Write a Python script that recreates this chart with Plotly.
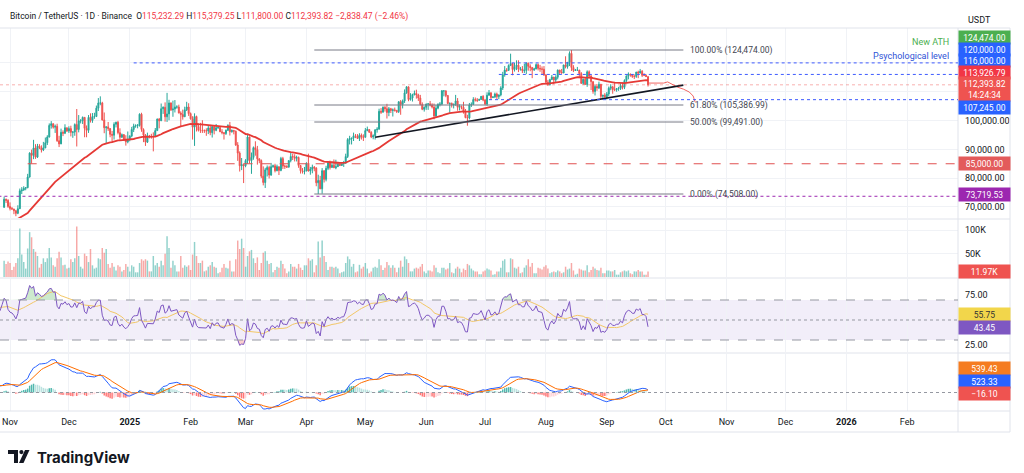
import numpy as np
import pandas as pd
import plotly.graph_objects as go

# ---------------- DATA (thousand USDT, daily, Binance BTCUSDT) ----------------
warm_start = "2024-08-01"   # closes used only to warm up the indicators
warm_close = [65.4,61.4,60.7,58.1,54.0,56.0,55.1,61.7,60.9,60.9,58.7,59.4,60.6,58.7,57.5,58.9,59.5,58.4,59.5,59.0,61.2,60.4,64.1,64.2,64.2,62.8,59.4,59.0,59.4,59.1,58.9,
              57.3,59.1,57.5,58.0,56.2,53.9,54.2,54.9,57.0,57.6,57.3,58.1,60.5,60.0,59.2,58.2,60.3,61.8,63.0,63.2,63.3,63.6,63.3,64.3,63.1,65.2,65.8,65.9,65.6,63.3,
              60.8,60.6,60.8,62.1,62.1,62.8,62.2,62.1,60.6,60.3,62.4,63.2,62.9,66.0,67.0,67.6,67.4,68.4,68.4,69.0,67.4,67.4,66.7,68.2,66.6,67.0,67.9,69.9]

bar_start = "2024-10-29"
close_k = [72.7,72.3,70.2,
  69.5,69.3,68.7,67.8,69.4,75.6,75.9,76.5,76.7,80.4,88.7,87.9,90.5,87.3,91.1,90.6,89.8,90.5,92.3,94.3,98.3,98.9,97.7,98.0,93.0,91.9,95.9,95.6,97.5,96.4,
  97.2,95.9,96.0,98.6,96.9,99.9,99.9,101.1,97.3,96.6,101.1,100.0,101.4,101.4,104.3,106.1,106.1,100.2,97.5,97.8,97.2,95.2,94.9,98.7,99.4,95.8,94.2,95.1,93.5,92.6,93.4,
  94.6,96.9,98.1,98.2,98.3,102.2,96.9,95.0,92.5,94.7,94.5,94.5,94.5,96.5,100.5,99.9,104.1,104.6,101.3,102.3,106.1,103.7,104.0,104.7,104.7,102.6,102.1,101.3,103.7,104.7,102.4,
  100.6,97.7,101.4,97.9,96.6,96.6,96.5,96.5,96.4,97.4,95.8,97.9,96.6,97.5,97.6,96.1,95.8,95.5,96.6,98.3,96.1,96.6,96.3,91.5,88.7,84.3,84.7,84.3,
  86.1,94.3,86.1,87.2,90.6,89.9,86.7,86.1,80.7,78.5,82.9,83.7,81.1,84.0,84.3,82.6,84.0,82.7,86.8,84.2,84.1,83.8,86.1,87.5,87.4,86.9,87.2,84.4,82.6,82.3,82.5,
  85.2,82.5,83.1,83.8,83.5,78.4,79.2,76.3,82.6,79.6,83.4,85.3,83.7,84.5,83.6,84.0,84.9,84.4,85.1,85.2,87.5,93.4,93.7,93.9,94.7,94.6,93.8,94.9,94.3,94.2,
  96.5,96.9,95.9,94.3,94.7,96.8,97.0,103.2,102.9,104.6,104.1,102.8,104.1,103.5,103.7,103.5,103.1,106.5,105.6,106.8,109.6,111.7,107.3,107.8,109.0,109.4,108.9,107.8,105.6,103.9,104.6,
  105.7,105.8,105.4,104.7,101.6,104.3,105.6,105.7,110.3,110.3,108.7,105.9,106.0,105.4,105.6,106.8,104.6,104.9,104.6,103.3,101.0,100.9,105.4,105.6,107.3,107.1,107.0,107.3,108.4,107.1,
  105.7,108.8,109.6,108.0,108.2,109.2,108.3,108.9,111.3,115.9,117.5,117.4,119.1,119.8,117.7,118.7,119.2,117.8,117.9,117.3,117.4,119.9,118.8,118.4,117.6,117.9,119.4,118.1,117.9,117.8,115.8,
  113.3,112.5,114.2,115.1,114.1,115.0,117.5,116.7,116.5,119.3,118.7,120.2,123.3,118.4,117.4,117.5,117.5,116.3,112.9,114.3,112.5,116.9,115.4,113.5,110.1,111.8,111.3,112.6,108.4,108.8,108.2,
  109.2,111.2,111.7,110.7,110.7,111.1,111.1,112.1,111.5,113.9,115.5,116.1,115.9,115.3,115.3,116.8,116.5,117.1,115.7,115.7,115.23229,112.39382]
high_k = [73.6,72.9,72.7,
  71.6,70.0,69.4,69.0,70.6,76.4,76.9,77.2,76.9,81.5,89.0,89.9,93.3,91.8,91.9,91.8,91.4,92.6,94.1,94.9,99.0,99.8,99.0,98.6,98.9,94.7,97.2,96.6,98.7,97.5,
  98.0,98.2,96.3,99.0,104.0,101.9,100.5,101.4,101.2,98.3,101.9,102.5,102.6,102.7,105.2,107.8,108.4,106.5,102.8,98.0,99.5,97.4,96.4,99.4,99.6,99.9,97.3,95.5,95.3,94.9,96.2,
  94.9,97.8,98.9,98.7,98.8,102.5,102.7,97.3,95.3,95.8,95.0,95.4,95.9,97.4,100.7,100.9,105.9,104.9,106.3,109.6,107.2,106.3,106.9,107.1,105.3,105.5,103.2,103.8,104.8,106.5,106.0,
  102.8,101.5,102.5,101.7,99.0,99.2,100.1,96.9,97.3,98.3,98.5,98.1,98.0,98.8,97.9,97.7,97.0,96.0,96.9,98.7,99.5,96.9,96.6,96.5,92.5,89.3,87.0,85.1,
  86.6,95.0,94.4,88.9,91.0,92.8,91.2,86.9,86.5,84.1,83.6,84.4,84.3,85.3,84.7,85.0,84.7,84.0,87.4,87.4,84.7,84.5,86.1,88.8,88.5,88.3,87.8,87.5,84.6,83.5,83.9,
  85.5,88.5,83.9,84.7,84.2,83.8,81.2,80.8,83.5,82.7,84.3,85.9,86.1,85.8,86.5,86.4,85.5,85.1,85.6,86.0,88.5,93.9,94.7,94.0,95.8,95.3,95.3,95.6,95.5,95.2,
  97.4,97.9,96.9,96.3,95.2,96.9,97.7,104.1,104.3,104.9,105.0,105.8,104.7,104.4,104.2,104.5,103.7,106.7,107.1,107.3,110.8,111.9,111.8,109.5,109.3,110.4,110.7,109.3,108.9,106.3,104.9,
  105.9,105.9,106.8,106.0,105.9,105.4,106.0,106.4,110.6,110.4,110.4,108.8,106.2,106.2,105.9,108.9,107.8,105.6,105.2,106.5,104.0,102.0,106.1,106.3,108.1,108.0,107.8,107.6,108.5,108.8,
  107.5,109.8,110.6,109.8,108.4,109.7,109.7,109.0,111.9,116.9,118.9,118.2,119.5,123.2,119.9,120.0,120.9,120.9,118.6,118.9,119.7,120.2,120.1,119.5,118.5,118.3,119.8,119.8,119.3,118.8,118.9,
  116.1,114.1,114.5,115.8,115.1,115.7,117.7,117.6,117.9,119.3,122.3,120.3,124.0,124.474,119.2,117.9,118.6,117.6,116.8,114.6,114.8,117.4,117.4,115.8,113.6,112.4,112.6,113.5,112.6,108.9,109.5,
  109.9,111.8,112.6,112.0,113.4,111.3,111.7,112.9,113.2,114.3,115.5,116.7,116.3,116.1,116.0,116.9,117.3,117.9,117.5,116.4,116.0,115.37925]
low_k = [69.7,71.4,69.7,
  68.8,69.0,67.5,66.8,67.5,69.3,74.5,75.6,75.8,76.5,80.2,85.1,86.6,86.7,87.0,90.1,88.9,89.4,90.4,91.5,94.1,97.2,97.2,95.7,92.6,90.8,91.8,94.6,95.3,96.0,
  95.7,94.5,94.0,94.7,91.0,95.9,99.0,98.8,94.2,94.2,95.7,99.3,99.2,100.6,101.2,103.3,105.3,100.0,95.6,92.1,96.4,94.2,92.4,93.4,97.6,95.2,93.3,94.0,92.9,91.3,92.1,
  92.8,94.2,96.0,97.5,97.3,97.9,96.1,92.5,91.2,92.2,93.8,93.7,89.3,94.3,96.5,97.3,99.9,102.3,99.6,99.5,100.1,103.3,101.3,102.8,104.1,102.5,97.8,100.3,101.3,103.3,101.6,
  100.3,93.4,91.2,96.2,96.2,95.7,95.7,95.7,94.7,95.3,94.9,94.1,95.2,96.3,97.1,96.0,95.2,93.4,95.0,96.4,94.8,95.8,95.2,91.2,86.0,82.3,82.8,78.3,
  83.8,85.0,85.1,81.5,86.4,87.8,84.7,85.2,80.0,77.5,76.6,80.6,79.9,80.8,83.6,82.0,82.4,81.1,82.4,83.2,83.2,83.7,83.8,85.5,86.3,85.8,85.8,83.6,81.6,81.6,81.3,
  82.4,82.3,81.2,81.7,82.4,77.2,74.508,76.2,74.6,78.5,78.9,82.8,83.0,83.7,83.6,83.1,83.9,84.2,84.3,83.9,85.1,87.0,91.7,91.7,92.9,93.9,93.6,92.9,93.4,92.9,
  94.1,96.3,95.8,93.9,93.5,93.4,95.8,96.9,102.3,102.8,103.1,100.7,101.5,102.6,101.4,103.1,102.6,102.6,102.0,104.2,106.1,109.3,106.7,106.9,106.6,108.7,107.6,106.8,105.3,103.6,103.1,
  103.7,103.7,104.9,104.2,100.4,101.1,103.9,104.9,105.3,108.4,108.1,105.7,102.7,104.5,104.2,105.1,103.4,103.5,103.9,102.4,100.8,98.2,100.4,104.7,105.5,106.6,106.4,106.9,107.2,106.7,
  105.3,105.1,108.6,107.2,107.8,107.8,107.5,107.4,108.4,110.6,115.2,116.9,117.3,118.9,115.7,117.0,117.5,116.8,117.3,116.5,116.5,116.1,117.3,117.1,114.7,117.2,117.8,117.4,116.9,115.8,115.5,
  112.7,112.0,112.1,114.1,112.6,113.3,114.3,115.9,116.3,116.5,118.1,118.0,118.9,117.2,116.8,117.2,117.3,114.7,112.7,112.4,112.4,111.7,114.6,110.6,109.3,108.7,110.3,110.9,107.4,107.3,108.0,
  107.3,108.4,110.5,109.3,110.2,110.0,110.3,110.6,110.8,110.9,113.4,114.3,115.2,114.8,114.4,114.8,114.7,116.3,115.1,115.4,115.2,111.8]
vol_k = [35,28,33,
  30,15,22,30,40,104,48,32,18,61,96,85,60,54,45,20,28,40,32,40,62,42,25,22,40,54,42,25,26,18,
  20,38,32,40,108,45,22,18,50,45,32,60,25,18,20,40,38,62,52,60,28,20,30,22,14,25,22,12,15,28,22,
  12,25,22,10,10,30,38,35,38,35,12,12,45,25,30,22,35,25,50,87,62,20,35,25,12,12,45,20,25,22,25,
  15,48,75,45,30,30,35,12,14,22,25,32,22,20,8,10,20,28,20,18,35,12,12,38,78,60,82,62,
  22,45,55,58,40,30,42,15,30,52,55,35,28,30,10,15,22,20,35,28,18,8,12,28,22,22,18,28,20,15,25,
  25,40,35,38,10,25,76,42,78,45,32,15,22,22,20,22,18,8,10,12,30,44,38,22,28,10,12,26,18,22,
  30,18,8,12,20,22,20,38,25,15,20,32,25,20,25,20,10,20,35,22,44,38,30,12,12,18,20,18,22,28,12,
  8,14,14,12,25,20,10,8,20,20,16,18,30,10,8,18,22,18,10,18,15,28,25,18,14,12,12,6,6,12,
  14,18,16,14,5,6,12,12,20,35,38,10,10,40,38,20,18,22,8,10,20,25,38,22,30,8,8,20,18,16,22,
  25,18,8,10,12,10,14,12,8,10,22,16,18,30,14,5,7,18,16,14,14,25,10,15,22,18,15,14,20,8,8,
  14,14,12,12,15,5,5,10,12,14,12,14,8,6,12,12,15,12,12,5,5,11.97]

# drawings
fib_from, fib_to = "2025-04-05", "2025-10-10"
fib_levels = [124474.00, 105386.99, 99491.00, 74508.00]
fib_names = ["100.00% (124,474.00)", "61.80% (105,386.99)", "50.00% (99,491.00)", "0.00% (74,508.00)"]
trend_dates = ["2025-05-06", "2025-10-10"]
trend_vals = [94200, 112300]
proj_dates = ["2025-09-22", "2025-09-30", "2025-10-02", "2025-10-07", "2025-10-10", "2025-10-13", "2025-10-15", "2025-10-16"]
proj_vals = [113000, 113000, 113400, 111600, 110900, 109900, 108500, 106400]
level_vals = [120000, 116000, 107245, 85000, 73719.53]
level_from = ["2025-01-03", "2025-07-08", "2025-07-03", "2024-11-10", "2024-10-20"]
last_price = 112393.82

title_pair = "Bitcoin / TetherUS · 1D · Binance"
ohlc_text = [("O", "115,232.29"), ("H", "115,379.25"), ("L", "111,800.00"), ("C", "112,393.82")]
chg_text = "−2,838.47 (−2.46%)"
month_ticks = ["2024-11-01", "2024-12-01", "2025-01-01", "2025-02-01", "2025-03-01", "2025-04-01", "2025-05-01",
               "2025-06-01", "2025-07-01", "2025-08-01", "2025-09-01", "2025-10-01", "2025-11-01", "2025-12-01",
               "2026-01-01", "2026-02-01"]
month_text = ["Nov", "Dec", "<b>2025</b>", "Feb", "Mar", "Apr", "May", "Jun", "Jul", "Aug", "Sep", "Oct", "Nov", "Dec",
              "<b>2026</b>", "Feb"]
price_ticks = [70000, 80000, 90000, 100000, 110000, 120000]
price_ticktext = ["70,000.00", "80,000.00", "90,000.00", "100,000.00", "", ""]

# right-scale labels: (text, pixel y, background, text colour)
scale_labels = [
    ("124,474.00", 37, "#4caf50", "white"),
    ("120,000.00", 49, "#2962ff", "white"),
    ("116,000.00", 61, "#2962ff", "white"),
    ("113,926.79", 72, "#f23645", "white"),
    ("112,393.82<br>14:24:34", 89, "#ef5350", "white"),
    ("107,245.00", 107, "#2962ff", "white"),
    ("85,000.00", 163, "#e35b5b", "white"),
    ("73,719.53", 195, "#9c27b0", "white"),
    ("11.97K", 271, "#ef5350", "white"),
    ("55.75", 314, "#f2d64b", "#333333"),
    ("43.45", 327, "#7e57c2", "white"),
    ("539.43", 368, "#f57c20", "white"),
    ("523.33", 381, "#2962ff", "white"),
    ("−16.10", 393, "#ef5350", "white"),
]

# ---------------- series ----------------
dates = pd.date_range(bar_start, periods=len(close_k), freq="D")
close = np.array(close_k) * 1000
high = np.array(high_k) * 1000
low = np.array(low_k) * 1000
opn = np.concatenate([[warm_close[-1] * 1000], close[:-1]])
up = close >= opn

all_dates = pd.date_range(warm_start, periods=len(warm_close) + len(close_k), freq="D")
s = pd.Series(np.concatenate([np.array(warm_close) * 1000, close]), index=all_dates)
ema50 = s.ewm(span=50, adjust=False).mean()
d = s.diff()
gain = d.clip(lower=0).ewm(alpha=1 / 14, adjust=False).mean()
loss = (-d.clip(upper=0)).ewm(alpha=1 / 14, adjust=False).mean()
rsi = 100 - 100 / (1 + gain / loss)
rsi_ma = rsi.rolling(14).mean()
macd = s.ewm(span=12, adjust=False).mean() - s.ewm(span=26, adjust=False).mean()
signal = macd.ewm(span=9, adjust=False).mean()
hist = macd - signal

ind_from = pd.Timestamp("2024-10-20")
m = all_dates >= ind_from
idates = all_dates[m]

hcol = []
hv = hist.values
for i in range(len(hv)):
    prev = hv[i - 1] if i > 0 else 0
    if hv[i] >= 0:
        hcol.append("rgba(38,166,154,0.8)" if hv[i] > prev else "rgba(178,223,219,0.9)")
    else:
        hcol.append("rgba(255,205,210,0.9)" if hv[i] > prev else "rgba(255,82,82,0.8)")
hcol = np.array(hcol)[m]

# ---------------- geometry ----------------
W, H = 1024, 473
ML, MR, MT, MB = 0, 66, 28, 62
PW, PH = W - ML - MR, H - MT - MB


def py(p):
    return (H - MB - p) / PH


def px(x):
    return (x - ML) / PW


x_range = ["2024-10-26 21:45", "2026-02-26 21:30"]
FONT = "Roboto, 'Noto Sans', sans-serif"
GRID = "#f0f2f6"

fig = go.Figure()

# main pane
fig.add_trace(go.Candlestick(x=dates, open=opn, high=high, low=low, close=close,
                             increasing=dict(line=dict(color="#26a69a", width=1), fillcolor="#26a69a"),
                             decreasing=dict(line=dict(color="#ef5350", width=1), fillcolor="#ef5350"),
                             whiskerwidth=0, xaxis="x", yaxis="y", hoverinfo="skip"))
fig.add_trace(go.Scatter(x=idates, y=ema50[m], mode="lines", line=dict(color="#e53935", width=1.8),
                         xaxis="x", yaxis="y", hoverinfo="skip"))
fig.add_trace(go.Scatter(x=pd.to_datetime(proj_dates), y=proj_vals, mode="lines",
                         line=dict(color="#ef5350", width=0.9), xaxis="x", yaxis="y", hoverinfo="skip"))
fig.add_trace(go.Scatter(x=pd.to_datetime(trend_dates), y=trend_vals, mode="lines",
                         line=dict(color="#131722", width=1.6), xaxis="x", yaxis="y", hoverinfo="skip"))

# volume pane
fig.add_trace(go.Bar(x=dates, y=vol_k, marker=dict(color=np.where(up, "rgba(38,166,154,0.5)", "rgba(239,83,80,0.5)"),
                                                    line=dict(width=0)),
                     xaxis="x2", yaxis="y2", hoverinfo="skip"))

# RSI pane
r = rsi[m]
fig.add_trace(go.Scatter(x=idates, y=np.full(len(r), 70.0), mode="lines", line=dict(width=0),
                         xaxis="x3", yaxis="y3", hoverinfo="skip"))
fig.add_trace(go.Scatter(x=idates, y=np.maximum(r, 70), mode="lines", line=dict(width=0), fill="tonexty",
                         fillcolor="rgba(76,175,80,0.28)", xaxis="x3", yaxis="y3", hoverinfo="skip"))
fig.add_trace(go.Scatter(x=idates, y=np.full(len(r), 30.0), mode="lines", line=dict(width=0),
                         xaxis="x3", yaxis="y3", hoverinfo="skip"))
fig.add_trace(go.Scatter(x=idates, y=np.minimum(r, 30), mode="lines", line=dict(width=0), fill="tonexty",
                         fillcolor="rgba(239,83,80,0.28)", xaxis="x3", yaxis="y3", hoverinfo="skip"))
fig.add_trace(go.Scatter(x=idates, y=rsi_ma[m], mode="lines", line=dict(color="#f3c766", width=1),
                         xaxis="x3", yaxis="y3", hoverinfo="skip"))
fig.add_trace(go.Scatter(x=idates, y=r, mode="lines", line=dict(color="#7e57c2", width=1),
                         xaxis="x3", yaxis="y3", hoverinfo="skip"))

# MACD pane
fig.add_trace(go.Bar(x=idates, y=hist[m], marker=dict(color=hcol, line=dict(width=0)),
                     xaxis="x4", yaxis="y4", hoverinfo="skip"))
fig.add_trace(go.Scatter(x=idates, y=macd[m], mode="lines", line=dict(color="#2962ff", width=1),
                         xaxis="x4", yaxis="y4", hoverinfo="skip"))
fig.add_trace(go.Scatter(x=idates, y=signal[m], mode="lines", line=dict(color="#ff6d00", width=1),
                         xaxis="x4", yaxis="y4", hoverinfo="skip"))

shown = all_dates >= pd.Timestamp(bar_start)
mmax = max(macd[shown].max(), signal[shown].max())
mmin = min(macd[shown].min(), signal[shown].min(), hist[shown].min())
unit = max(mmax / 35.0, -mmin / 16.5)
macd_range = [-18.5 * unit, 38.5 * unit]

# ---------------- axes ----------------
def xax(domain_anchor, labels):
    return dict(type="date", range=x_range, anchor=domain_anchor, matches=None if domain_anchor == "y" else "x",
                tickvals=month_ticks, ticktext=month_text, showticklabels=labels, showgrid=True,
                gridcolor=GRID, gridwidth=1, zeroline=False, showline=False, ticks="",
                tickfont=dict(family=FONT, size=9, color="#131722"), rangeslider=dict(visible=False))


yfont = dict(family=FONT, size=9, color="#131722")
fig.update_layout(
    width=W, height=H, margin=dict(l=ML, r=MR, t=MT, b=MB),
    paper_bgcolor="white", plot_bgcolor="white", showlegend=False, bargap=0.25,
    xaxis=xax("y", False), xaxis2=xax("y2", False), xaxis3=xax("y3", False), xaxis4=xax("y4", True),
    yaxis=dict(domain=[py(218), py(MT)], range=[66180, 132110], side="right", tickvals=price_ticks,
               ticktext=price_ticktext, showgrid=True, gridcolor=GRID, zeroline=False, ticks="",
               tickfont=yfont, ticklabelstandoff=6),
    yaxis2=dict(domain=[py(277), py(220)], range=[0, 122], side="right", tickvals=[50, 100],
                ticktext=["50K", "100K"], showgrid=True, gridcolor=GRID, zeroline=False, ticks="",
                tickfont=yfont, ticklabelstandoff=6),
    yaxis3=dict(domain=[py(352), py(279)], range=[18, 91], side="right", tickvals=[25, 75],
                ticktext=["25.00", "75.00"], showgrid=False, zeroline=False, ticks="",
                tickfont=yfont, ticklabelstandoff=6),
    yaxis4=dict(domain=[py(H - MB), py(354)], range=macd_range, side="right", showticklabels=False,
                showgrid=False, zeroline=False, ticks=""),
)
fig.update_xaxes(ticklabelstandoff=4, selector=dict(anchor="y4"))

shapes = []
# pane separators and frame
for yy in [MT, 219, 278, 353, 411, 432]:
    shapes.append(dict(type="line", xref="paper", yref="paper", x0=0, x1=px(1010), y0=py(yy), y1=py(yy),
                       line=dict(color="#e0e3eb", width=1)))
shapes.append(dict(type="line", xref="paper", yref="paper", x0=1, x1=1, y0=py(432), y1=py(MT),
                   line=dict(color="#e0e3eb", width=1)))
shapes.append(dict(type="line", xref="paper", yref="paper", x0=px(1010), x1=px(1010), y0=py(432), y1=py(MT),
                   line=dict(color="#e0e3eb", width=1)))
# RSI band
shapes.append(dict(type="rect", xref="paper", yref="y3", x0=0, x1=1, y0=30, y1=70,
                   fillcolor="rgba(126,87,194,0.10)", line=dict(width=0), layer="below"))
for lv, dsh in [(70, "dash"), (50, "dot"), (30, "dash")]:
    shapes.append(dict(type="line", xref="paper", yref="y3", x0=0, x1=1, y0=lv, y1=lv,
                       line=dict(color="#9598a1", width=1, dash=dsh)))
shapes.append(dict(type="line", xref="paper", yref="y4", x0=0, x1=1, y0=0, y1=0,
                   line=dict(color="#9598a1", width=1, dash="dot")))
# current price line
shapes.append(dict(type="line", xref="paper", yref="y", x0=0, x1=1, y0=last_price, y1=last_price,
                   line=dict(color="rgba(239,83,80,0.45)", width=1, dash="dot")))
# fibonacci
for lv in fib_levels:
    shapes.append(dict(type="line", xref="x", yref="y", x0=fib_from, x1=fib_to, y0=lv, y1=lv,
                       line=dict(color="#787b86", width=1)))
# horizontal levels
lvl_style = [("#3d5afe", "dot"), ("#3d5afe", "dot"), ("#3d5afe", "dot"), ("#e05050", "dash"), ("#9c27b0", "dot")]
for v, f, (c, dsh) in zip(level_vals, level_from, lvl_style):
    shapes.append(dict(type="line", xref="x", yref="y", x0=f, x1=x_range[1], y0=v, y1=v,
                       line=dict(color=c, width=1, dash=dsh)))

# TradingView logo glyph (pixel coordinates -> paper)
def P(x, y):
    return f"{px(x):.5f},{py(y):.5f}"


shapes.append(dict(type="path", xref="paper", yref="paper",
                   path=f"M{P(8,450)} L{P(18,450)} L{P(18,463)} L{P(14,463)} L{P(14,454)} L{P(8,454)} Z",
                   fillcolor="#131722", line=dict(width=0)))
shapes.append(dict(type="circle", xref="paper", yref="paper", x0=px(19.3), x1=px(23.5), y0=py(454.2), y1=py(450),
                   fillcolor="#131722", line=dict(width=0)))
shapes.append(dict(type="path", xref="paper", yref="paper",
                   path=f"M{P(19,463)} L{P(23.5,463)} L{P(29.5,450)} L{P(25,450)} Z",
                   fillcolor="#131722", line=dict(width=0)))
fig.update_layout(shapes=shapes)

ann = []
for name, lv in zip(fib_names, fib_levels):
    ann.append(dict(x=pd.Timestamp(fib_to) + pd.Timedelta(days=2.5), y=lv, xref="x", yref="y", text=name,
                    showarrow=False, xanchor="left", yanchor="middle",
                    font=dict(family=FONT, size=8.5, color="#434651")))
ann.append(dict(x=px(951), y=py(42), xref="paper", yref="paper", text="New ATH", showarrow=False,
                xanchor="right", yanchor="middle", font=dict(family=FONT, size=9, color="#4caf50")))
ann.append(dict(x=px(951), y=py(56), xref="paper", yref="paper", text="Psychological level", showarrow=False,
                xanchor="right", yanchor="middle", font=dict(family=FONT, size=9, color="#2f52d6")))
for txt, yy, bg, fg in scale_labels:
    ann.append(dict(x=1, y=py(yy), xref="paper", yref="paper", text=txt, showarrow=False, xanchor="left",
                    yanchor="middle", xshift=0, bgcolor=bg, borderpad=1.5, width=48, align="center",
                    font=dict(family=FONT, size=8.5, color=fg)))
head = f'<span style="color:#131722">{title_pair}</span>  '
head += " ".join(f'<span style="color:#131722">{k}</span><span style="color:#f23645">{v}</span>' for k, v in ohlc_text)
head += f' <span style="color:#f23645">{chg_text}</span>'
ann.append(dict(x=px(8), y=py(17), xref="paper", yref="paper", text=head, showarrow=False, xanchor="left",
                yanchor="middle", font=dict(family=FONT, size=8.5)))
ann.append(dict(x=px(966), y=py(20), xref="paper", yref="paper", text="USDT", showarrow=False, xanchor="left",
                yanchor="middle", font=dict(family=FONT, size=9, color="#131722")))
ann.append(dict(x=px(35), y=py(457), xref="paper", yref="paper", text="<b>TradingView</b>", showarrow=False,
                xanchor="left", yanchor="middle", font=dict(family="Inter, Lato, sans-serif", size=15, color="#131722")))
fig.update_layout(annotations=ann)

fig.write_html("out.html", config={"displayModeBar": False, "staticPlot": True},
               post_script="document.body.style.margin='0';document.body.style.overflow='hidden';")
